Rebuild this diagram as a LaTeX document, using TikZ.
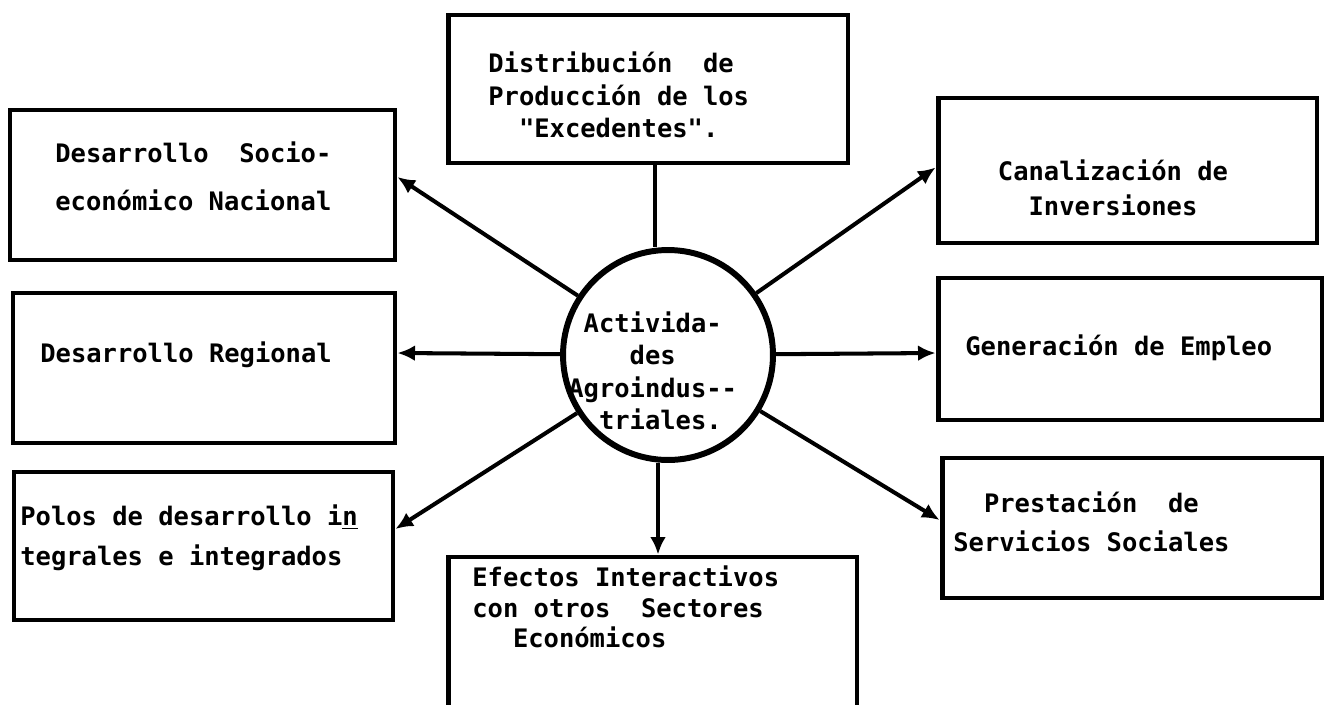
\documentclass[tikz,border=0pt]{standalone}
\usepackage{fontspec}
\usepackage{tikz}
\usetikzlibrary{calc,arrows.meta}
\newfontfamily\typew{DejaVu Sans Mono}

\begin{document}
\begin{tikzpicture}
[x=0.02cm,y=-0.02cm,
box/.style={draw,line width=2.8pt,inner sep=0pt},
txt/.style={inner sep=0pt,align=left,anchor=west,font=\typew\bfseries\fontsize{14.5}{18.5}\selectfont},
>={Latex[length=10pt,width=9pt]}]
\useasboundingbox (0,0) rectangle (1327,704);
\node[draw,circle,line width=3.4pt,minimum size=4.2cm] (act) at (668,355) {};
\node[box,minimum width=8cm,minimum height=2.96cm] (dist) at (648,89) {};
\node[box,minimum width=7.7cm,minimum height=3cm] (soc) at (202.5,185) {};
\node[box,minimum width=7.64cm,minimum height=3cm] (reg) at (204,368) {};
\node[box,minimum width=7.58cm,minimum height=2.96cm] (pol) at (203.5,546) {};
\node[box,minimum width=8.18cm,minimum height=3.32cm] (efe) at (652.5,640) {};
\node[box,minimum width=7.58cm,minimum height=2.9cm] (can) at (1127.5,170.5) {};
\node[box,minimum width=7.68cm,minimum height=2.84cm] (gen) at (1130,349) {};
\node[box,minimum width=7.6cm,minimum height=2.8cm] (pre) at (1132,528) {};
% texts
\node[txt] (act-t) at (568,371) {\phantom{x}Activida-\\\phantom{xxxx}des\\Agroindus--\\\phantom{xx}triales.};
\node[txt] (dist-t) at (488,95) {Distribución~~de\\Producción de los\\\phantom{xx}"Excedentes".};
\node[txt] (soc-t) at (55,176) {Desarrollo~~Socio-\\[9pt]económico Nacional};
\node[txt] (reg-t) at (40,355) {Desarrollo Regional};
\node[txt] (pol-t) at (20,538) {Polos de desarrollo i\underline{n}\\[4pt]tegrales e integrados};
\node[txt] (efe-t) at (472,607) {Efectos Interactivos\\[-1pt]con otros~~Sectores\\[-1pt]\phantom{xx}\hspace*{0.2cm}Económicos};
\node[txt,align=center,anchor=center] (can-t) at (1113,188) {Canalización de\\[1.5pt]Inversiones};
\node[txt] (gen-t) at (965,348) {Generación de Empleo};
\node[txt] (pre-t) at (953,522) {\phantom{xx}Prestación~~de\\[4pt]Servicios Sociales};
% connectors
\draw[line width=2.3pt] ([xshift=-0.26cm]act.north) -- ([xshift=-0.26cm]act.north |- dist.south);
\draw[line width=2.3pt,->] ([xshift=-0.2cm]act.south) -- ([xshift=-0.2cm]act.south |- efe.north);
\foreach \b/\a/\d in {soc/east/-8,reg/east/-15,pol/east/-17,can/west/-3,gen/west/4,pre/west/-8}
\draw[line width=2.3pt,->] (act) -- ($(\b.\a)+(0,\d)$);
\end{tikzpicture}
\end{document}
